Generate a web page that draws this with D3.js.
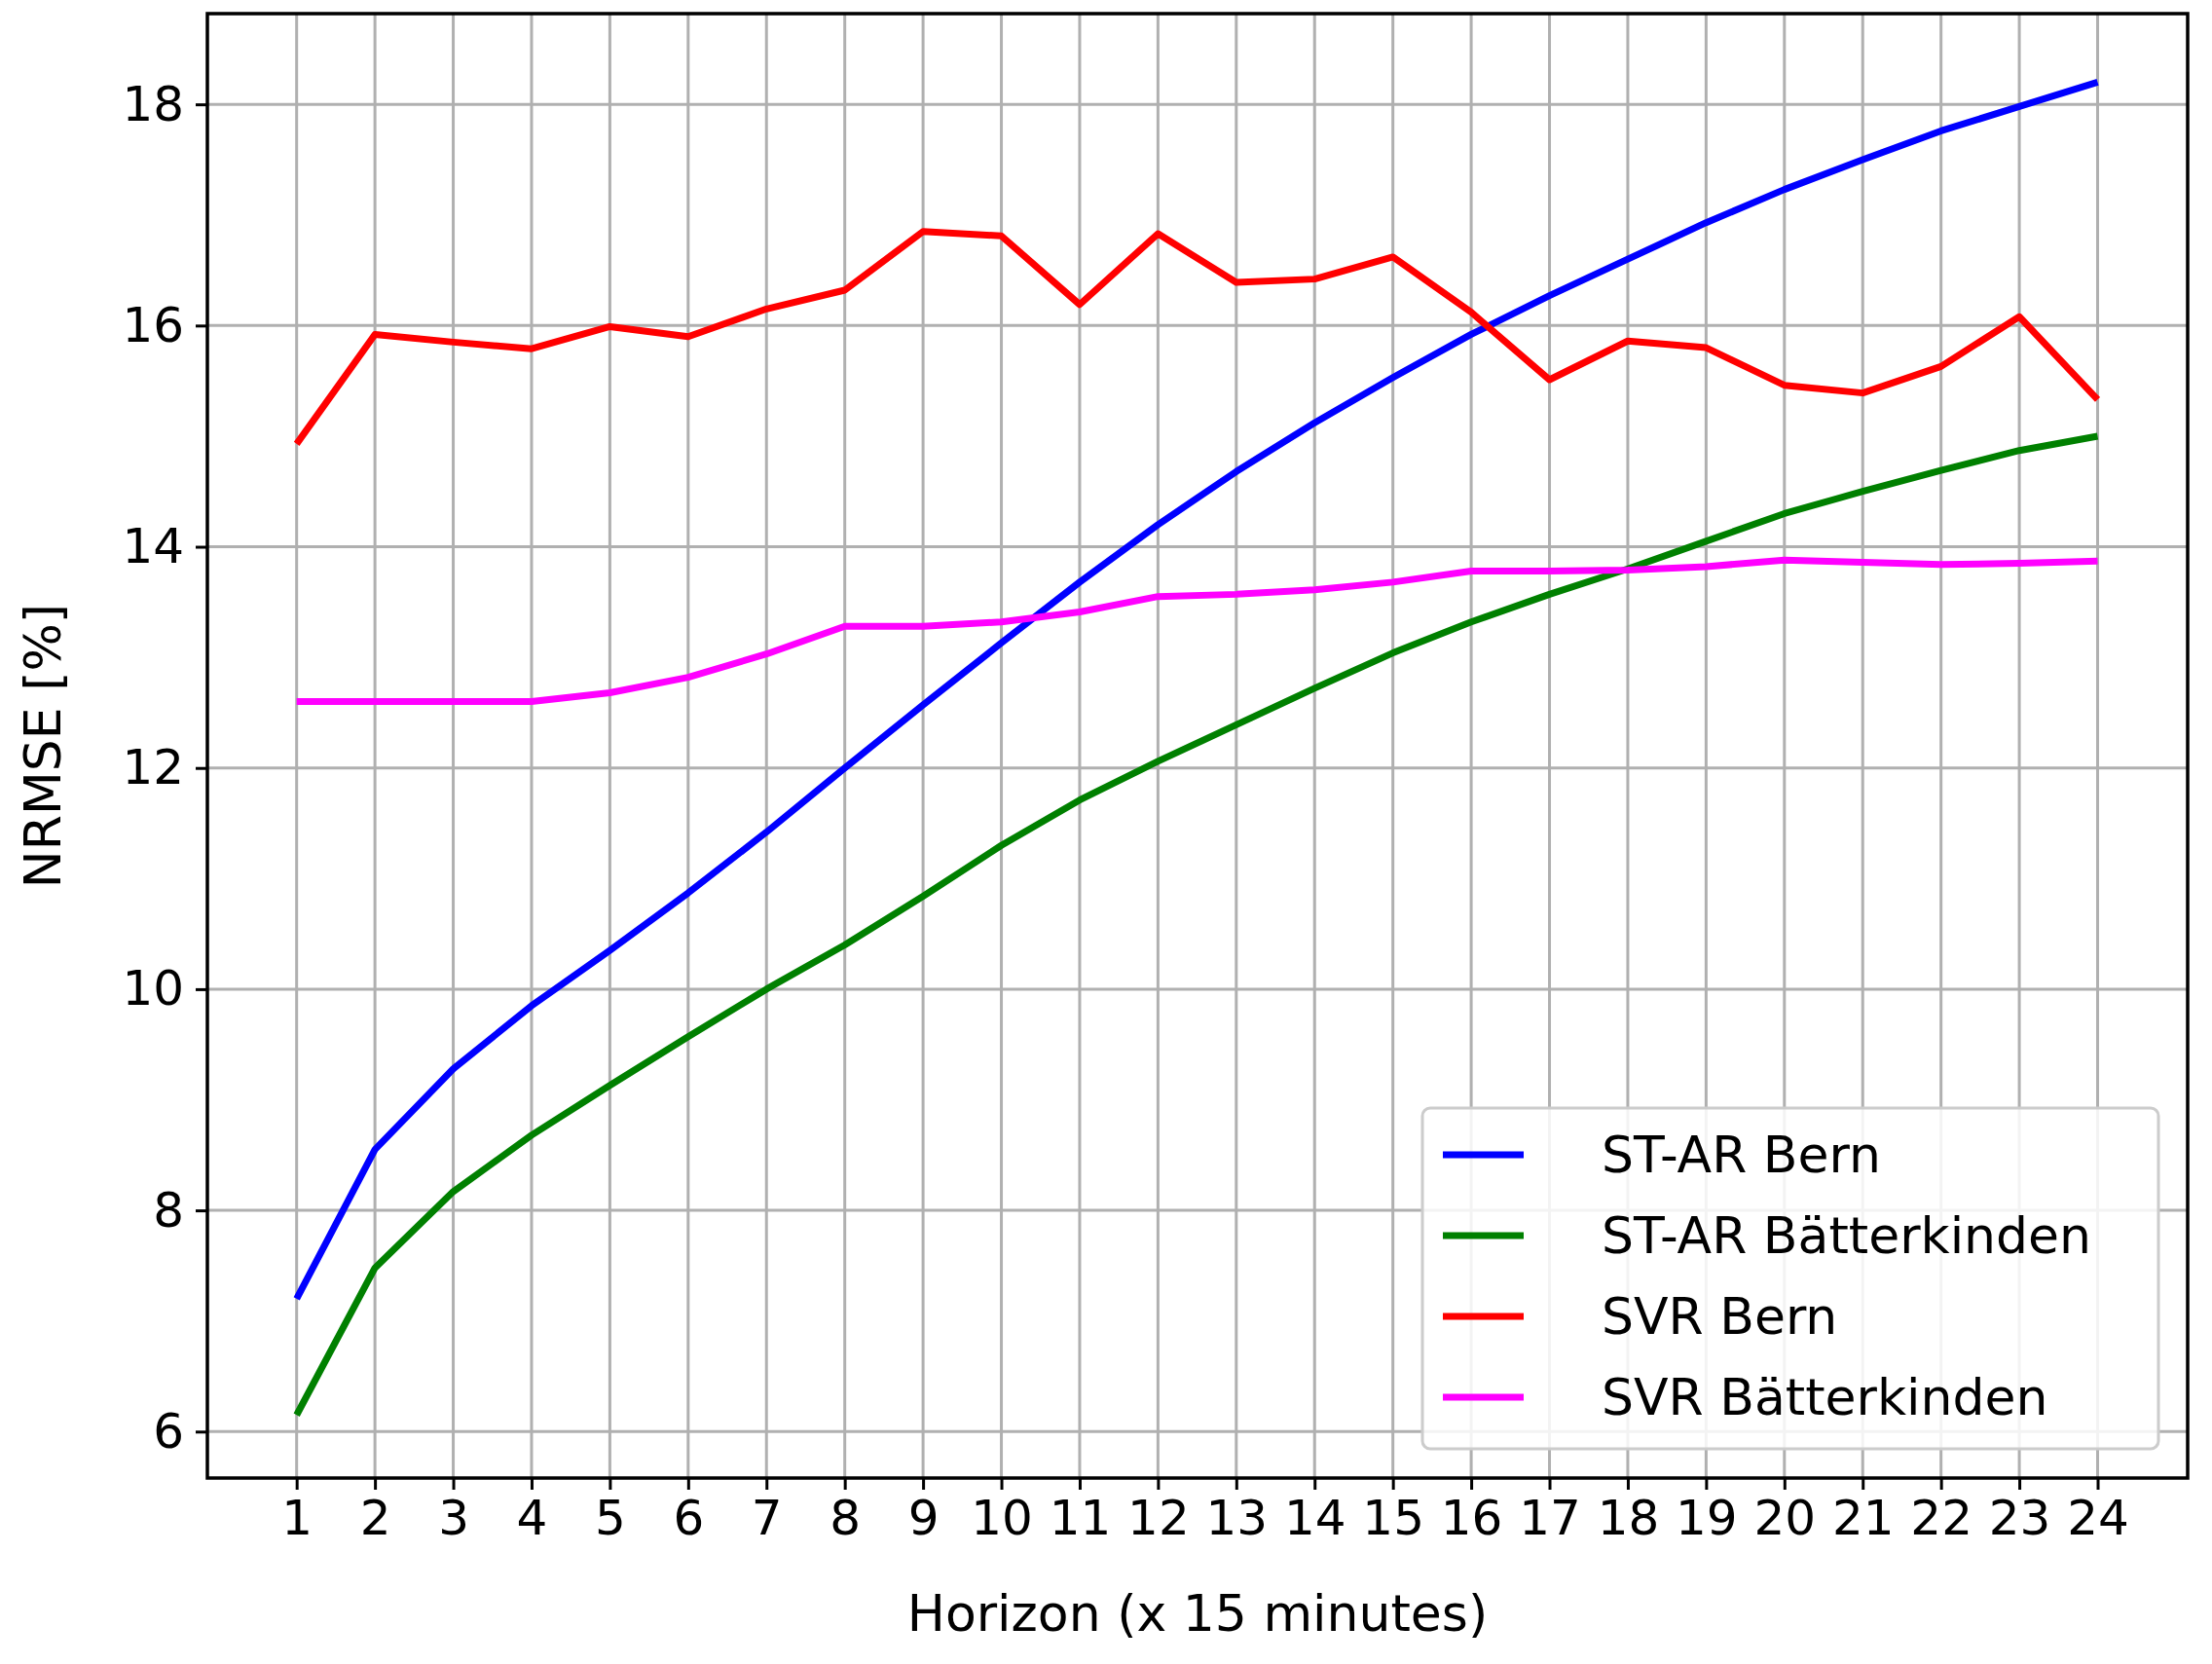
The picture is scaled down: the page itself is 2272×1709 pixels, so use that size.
<!DOCTYPE html><html><head><meta charset="utf-8">
<script src="https://cdn.jsdelivr.net/npm/d3@7"></script>
<style>body{margin:0;background:#fff}</style></head><body>
<svg id="c" width="2272" height="1709"></svg>
<script>
const horizons = d3.range(1,25);
const stArBern = [7.2,8.55,9.28,9.85,10.35,10.87,11.42,12.0,12.57,13.13,13.68,14.2,14.68,15.12,15.53,15.92,16.27,16.6,16.93,17.23,17.5,17.76,17.98,18.2];
const stArBat = [6.15,7.48,8.17,8.68,9.13,9.57,10.0,10.4,10.84,11.3,11.71,12.06,12.39,12.72,13.04,13.32,13.57,13.8,14.05,14.3,14.5,14.69,14.87,15.0];
const svrBern = [14.93,15.92,15.85,15.79,15.99,15.9,16.15,16.32,16.85,16.81,16.19,16.83,16.39,16.42,16.62,16.12,15.51,15.86,15.8,15.46,15.39,15.63,16.08,15.33];
const svrBat = [12.6,12.6,12.6,12.6,12.68,12.82,13.03,13.28,13.28,13.32,13.41,13.55,13.57,13.61,13.68,13.78,13.78,13.79,13.82,13.88,13.86,13.84,13.85,13.87];
const yTicks = [6,8,10,12,14,16,18];
const seriesNames = ["ST-AR Bern","ST-AR Bätterkinden","SVR Bern","SVR Bätterkinden"];
const seriesColors = ["#0000ff","#008000","#ff0000","#ff00ff"];
const seriesData = [stArBern, stArBat, svrBern, svrBat];

const svg = d3.select("#c");
const L=213,R=2247,T=14,B=1518;
const x = d3.scaleLinear().domain([-0.14,25.15]).range([L,R]);
const y = d3.scaleLinear().domain([5.58,18.82]).range([B,T]);
const font = "DejaVu Sans, sans-serif";
const g = svg.append("g");
// grid
g.selectAll(".gx").data(horizons).join("line").attr("x1",d=>x(d)).attr("x2",d=>x(d)).attr("y1",T).attr("y2",B).attr("stroke","#b0b0b0").attr("stroke-width",3);
g.selectAll(".gy").data(yTicks).join("line").attr("y1",d=>y(d)).attr("y2",d=>y(d)).attr("x1",L).attr("x2",R).attr("stroke","#b0b0b0").attr("stroke-width",3);
// axes
const xa = svg.append("g").attr("transform",`translate(0,${B})`).call(d3.axisBottom(x).tickValues(horizons).tickSize(12).tickPadding(10).tickFormat(d3.format("d")));
const ya = svg.append("g").attr("transform",`translate(${L},0)`).call(d3.axisLeft(y).tickValues(yTicks).tickSize(12).tickPadding(12));
[xa,ya].forEach(a=>{a.selectAll("text").attr("font-family",font).attr("font-size",50).attr("fill","#000");a.selectAll("line").attr("stroke-width",3);a.select(".domain").remove();});
// lines
const line = d3.line().x((d,i)=>x(horizons[i])).y(d=>y(d));
seriesData.forEach((s,i)=>svg.append("path").attr("d",line(s)).attr("fill","none").attr("stroke",seriesColors[i]).attr("stroke-width",7).attr("stroke-linejoin","round"));
svg.append("rect").attr("x",L).attr("y",T).attr("width",R-L).attr("height",B-T).attr("fill","none").attr("stroke","#000").attr("stroke-width",3.5);
// labels
svg.append("text").attr("x",(L+R)/2).attr("y",1675).attr("text-anchor","middle").attr("font-family",font).attr("font-size",52).text("Horizon (x 15 minutes)");
svg.append("text").attr("transform",`translate(62,${(T+B)/2}) rotate(-90)`).attr("text-anchor","middle").attr("font-family",font).attr("font-size",52).text("NRMSE [%]");
// legend
const lg = svg.append("g");
lg.append("rect").attr("x",1461).attr("y",1138).attr("width",756).attr("height",350).attr("rx",8).attr("fill","#fff").attr("fill-opacity",0.85).attr("stroke","#ccc").attr("stroke-width",3);
seriesNames.forEach((n,i)=>{const yy=1186+i*83;
 lg.append("line").attr("x1",1482).attr("x2",1565).attr("y1",yy).attr("y2",yy).attr("stroke",seriesColors[i]).attr("stroke-width",7);
 lg.append("text").attr("x",1645).attr("y",yy+18).attr("font-family",font).attr("font-size",52).text(n);});
</script></body></html>
